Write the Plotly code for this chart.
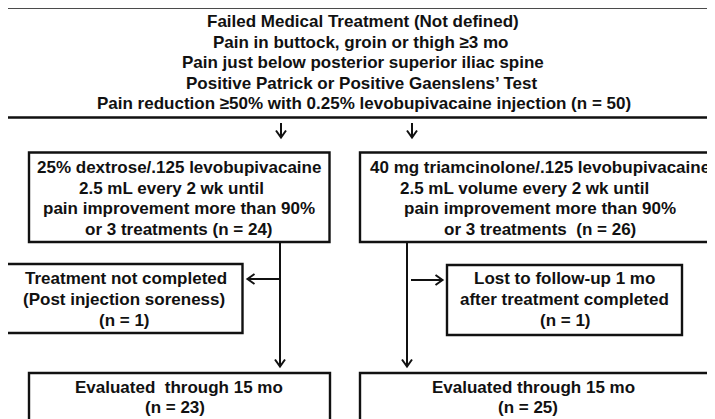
import plotly.graph_objects as go

W, H = 715, 419
PAGE_MARGIN = 8  # default body margin of the page

# Box texts (one entry per line) with (x centre, y centre) in pixel coordinates
top_lines = [
    "Failed Medical Treatment (Not defined)",
    "Pain in buttock, groin or thigh \u22653 mo",
    "Pain just below posterior superior iliac spine",
    "Positive Patrick or Positive Gaenslens\u2019 Test",
    "Pain reduction \u226550% with 0.25% levobupivacaine injection (n = 50)",
]
top_x = [363, 361, 363, 362, 364]
top_y = [21.5, 42, 62.5, 83, 103.5]

left_lines = [
    "25% dextrose/.125 levobupivacaine",
    "2.5 mL every 2 wk until",
    "pain improvement more than 90%",
    "or 3 treatments (n = 24)",
]
left_x = [178.5, 171.5, 179, 179]
right_lines = [
    "40 mg triamcinolone/.125 levobupivacaine",
    "2.5 mL volume every 2 wk until",
    "pain improvement more than 90%",
    "or 3 treatments  (n = 26)",
]
right_x = [540, 524, 540, 540]
mid_y = [167.5, 188, 208.5, 229]

drop_left_lines = ["Treatment not completed", "(Post injection soreness)", "(n = 1)"]
drop_left_x = [125.5, 124, 124]
drop_right_lines = ["Lost to follow-up 1 mo", "after treatment completed", "(n = 1)"]
drop_right_x = [564, 564, 565]
drop_y = [278.5, 299, 320]

final_left_lines = ["Evaluated  through 15 mo", "(n = 23)"]
final_left_x = [179, 175]
final_right_lines = ["Evaluated through 15 mo", "(n = 25)"]
final_right_x = [533, 528]
final_y = [387.5, 407]

# Boxes: x0, y0, x1, y1
boxes = [
    (6, 7.5, 722, 117.5),
    (29, 152.5, 329.5, 242),
    (360, 152.5, 722, 242),
    (6, 264, 242.5, 333),
    (447, 265, 682, 335),
    (29, 373, 330, 425),
    (360, 373, 722, 425),
]

# Connector lines: x0, y0, x1, y1
lines = [
    (281, 123, 281, 137),
    (412, 123, 412, 137),
    (280, 242, 280, 366),
    (280, 279, 248, 279),
    (407, 242, 407, 366),
    (411, 280, 442, 280),
]
# Arrow heads: tip x, tip y, direction
heads = [
    (281, 137.5, "down"),
    (412, 137.5, "down"),
    (280, 366.5, "down"),
    (407, 366.5, "down"),
    (247.5, 279, "left"),
    (442.5, 280, "right"),
]

ink = "#111111"
fig = go.Figure()
fig.add_trace(go.Scatter(x=[0, W], y=[0, H], mode="markers", marker=dict(opacity=0), hoverinfo="skip", showlegend=False))

shapes = []
for x0, y0, x1, y1 in boxes:
    shapes.append(dict(type="rect", xref="x", yref="y", x0=x0, y0=y0, x1=x1, y1=y1,
                       line=dict(color=ink, width=2.4), fillcolor="rgba(0,0,0,0)"))
for x0, y0, x1, y1 in lines:
    shapes.append(dict(type="line", xref="x", yref="y", x0=x0, y0=y0, x1=x1, y1=y1,
                       line=dict(color=ink, width=2)))
for tx, ty, d in heads:
    if d == "down":
        p = f"M {tx-5},{ty-7} L {tx},{ty} L {tx+5},{ty-7}"
    elif d == "left":
        p = f"M {tx+7},{ty-5} L {tx},{ty} L {tx+7},{ty+5}"
    else:
        p = f"M {tx-7},{ty-5} L {tx},{ty} L {tx-7},{ty+5}"
    shapes.append(dict(type="path", xref="x", yref="y", path=p, line=dict(color=ink, width=2)))

annotations = []
def add_lines(texts, xs, ys):
    for t, x, y in zip(texts, xs, ys):
        annotations.append(dict(x=x, y=y, xref="x", yref="y", text=f"<b>{t}</b>", showarrow=False,
                                xanchor="center", yanchor="middle",
                                font=dict(family="Liberation Sans, Arial, sans-serif", size=17, color=ink)))

add_lines(top_lines, top_x, top_y)
add_lines(left_lines, left_x, mid_y)
add_lines(right_lines, right_x, mid_y)
add_lines(drop_left_lines, drop_left_x, drop_y)
add_lines(drop_right_lines, drop_right_x, drop_y)
add_lines(final_left_lines, final_left_x, final_y)
add_lines(final_right_lines, final_right_x, final_y)

# The figure sits inside the page's default margin; map axis units to window pixels.
fig.update_layout(
    width=W - PAGE_MARGIN, height=H - PAGE_MARGIN, margin=dict(l=0, r=0, t=0, b=0),
    paper_bgcolor="white", plot_bgcolor="white",
    xaxis=dict(range=[PAGE_MARGIN, W], visible=False, fixedrange=True),
    yaxis=dict(range=[H, PAGE_MARGIN], visible=False, fixedrange=True),
    shapes=shapes, annotations=annotations, showlegend=False,
)
fig.write_html("out.html", config={"displayModeBar": False})
